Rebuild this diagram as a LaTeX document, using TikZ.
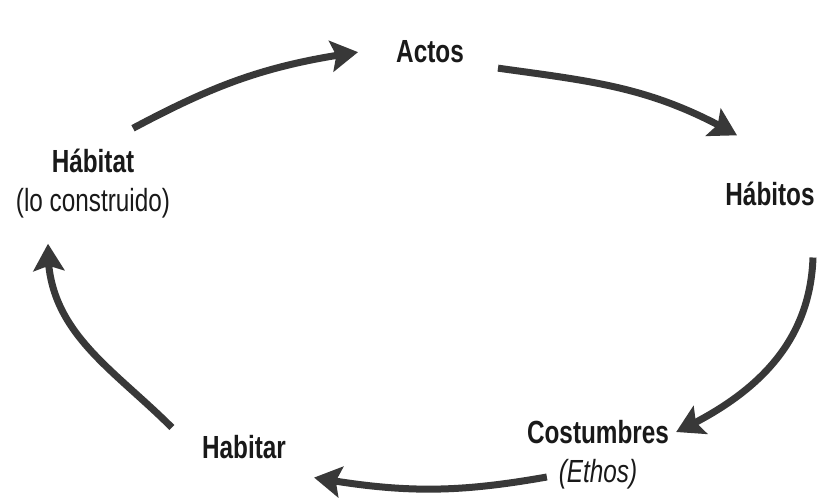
\documentclass[tikz,border=0pt]{standalone}
\usepackage{fontspec}
\setmainfont{Liberation Sans}[FakeStretch=0.76]
\usetikzlibrary{arrows.meta,bending}
\tikzstyle{stage} = [inner sep=0pt, text=black!90, font=\fontsize{32}{39}\selectfont\bfseries, align=center]
\tikzstyle{arrow} = [line width=7pt, draw=black!78, -{Stealth[length=27pt,width=31pt,inset=5pt]}]

\begin{document}
\begin{tikzpicture}[x=1pt,y=1pt]
        \useasboundingbox [fill=white] (0,0) rectangle (821,499);
        \node(actos) [stage,anchor=base] at (430,436) {Actos};
        \node(habitos) [stage,anchor=base] at (770,294) {Hábitos};
        \node(costumbres) [stage] at (598,44) {Costumbres\\{\mdseries\itshape (Ethos)}};
        \node(habitar) [stage,anchor=base] at (244,41) {Habitar};
        \node(habitat) [stage] at (93,315) {Hábitat\\{\mdseries (lo construido)}};
        \draw [arrow] ([xshift=40pt,yshift=21pt]habitat.north) to[out=28,in=188] ([xshift=-38pt]actos.west);
        \draw [arrow] ([xshift=34pt,yshift=-16pt]actos.east) to[out=-8,in=150] ([xshift=-33pt,yshift=46pt]habitos.north);
        \draw [arrow] ([xshift=43pt,yshift=-52pt]habitos.south) to[out=-92,in=25] ([xshift=7pt,yshift=23pt]costumbres.east);
        \draw [arrow] ([xshift=20pt,yshift=-22pt]costumbres.west) to[out=190,in=-10] ([xshift=28pt,yshift=-31pt]habitar.east);
        \draw [arrow] ([xshift=-30pt,yshift=19pt]habitar.west) to[out=135,in=-92] ([xshift=-45pt,yshift=-25pt]habitat.south);
    \end{tikzpicture}
\end{document}
